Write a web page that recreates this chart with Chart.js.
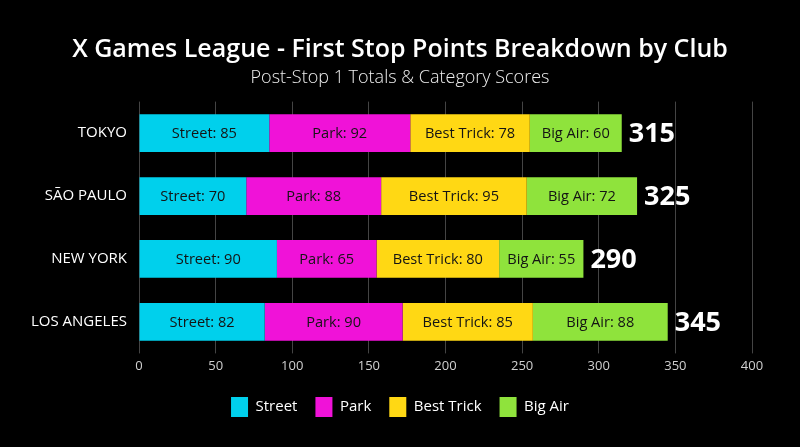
<!DOCTYPE html>
<html>
<head>
<meta charset="utf-8">
<script src="https://cdn.jsdelivr.net/npm/chart.js@4"></script>
<style>
  html, body { margin: 0; padding: 0; background: #000; }
  #wrap { width: 800px; height: 447px; }
</style>
</head>
<body>
<div id="wrap"><canvas id="clubChart"></canvas></div>
<script>
// donnees
const clubs = ['TOKYO', 'SÃO PAULO', 'NEW YORK', 'LOS ANGELES'];
const streetPts = [85, 70, 90, 82];
const parkPts = [92, 88, 65, 90];
const bestTrickPts = [78, 95, 80, 85];
const bigAirPts = [60, 72, 55, 88];
const categoryNames = ['Street', 'Park', 'Best Trick', 'Big Air'];
const categoryColors = ['#00d0ec', '#f012d8', '#ffd814', '#8fe33c'];

const FONT = '"Open Sans", sans-serif';

// les totaux a droite des barres
const totalsPlugin = {
    id: 'totals',
    afterDatasetsDraw(chart) {
        const c = chart.ctx;
        const xs = chart.scales.x, ys = chart.scales.y;
        c.save();
        c.fillStyle = '#fff';
        c.font = '700 27px ' + FONT;
        c.textBaseline = 'middle';
        c.textAlign = 'left';
        clubs.forEach((club, i) => {
            const total = streetPts[i] + parkPts[i] + bestTrickPts[i] + bigAirPts[i];
            c.fillText(String(total), xs.getPixelForValue(total) + 7, ys.getPixelForValue(i) + 1);
        });
        c.restore();
    }
};

// noms des clubs a gauche (les ticks de chart.js se font couper)
const clubNamesPlugin = {
    id: 'clubNames',
    afterDraw(chart) {
        const c = chart.ctx;
        const ys = chart.scales.y;
        c.save();
        c.fillStyle = '#fff';
        c.font = '500 15px ' + FONT;
        c.textBaseline = 'middle';
        c.textAlign = 'right';
        clubs.forEach((club, i) => {
            c.fillText(club, chart.chartArea.left - 12, ys.getPixelForValue(i));
        });
        c.restore();
    }
};

// texte dans chaque segment
const segLabelsPlugin = {
    id: 'segLabels',
    afterDatasetsDraw(chart) {
        const c = chart.ctx;
        c.save();
        c.fillStyle = '#141414';
        c.font = '500 14.6px ' + FONT;
        c.textBaseline = 'middle';
        c.textAlign = 'center';
        chart.data.datasets.forEach((ds, d) => {
            chart.getDatasetMeta(d).data.forEach((bar, i) => {
                const mid = (bar.x + bar.base) / 2;
                c.fillText(ds.label + ': ' + ds.data[i], mid, bar.y + 1);
            });
        });
        c.restore();
    }
};

const seriesData = [streetPts, parkPts, bestTrickPts, bigAirPts];

const clubChart = new Chart(document.getElementById('clubChart'), {
    type: 'bar',
    data: {
        labels: clubs,
        datasets: categoryNames.map((name, k) => ({
            label: name,
            data: seriesData[k],
            backgroundColor: categoryColors[k],
            borderWidth: 0,
            categoryPercentage: 0.6,
            barPercentage: 1
        }))
    },
    options: {
        indexAxis: 'y',
        responsive: true,
        maintainAspectRatio: false,
        animation: false,
        layout: { padding: { left: 48, right: 48, top: 8, bottom: 20 } },
        scales: {
            x: {
                stacked: true,
                min: 0,
                max: 400,
                ticks: { stepSize: 50, color: '#d0d0d0', font: { family: FONT, size: 13 }, padding: 5 },
                grid: { color: '#444', lineWidth: 1, tickLength: 0 },
                border: { display: false }
            },
            y: {
                stacked: true,
                afterFit(scale) { scale.width = 91; },   // pour centrer titre + legende
                ticks: { display: false },
                grid: { display: false },
                border: { display: false }
            }
        },
        plugins: {
            title: {
                display: true,
                text: 'X Games League - First Stop Points Breakdown by Club',
                color: '#fff',
                font: { family: FONT, size: 25, weight: '600' },
                padding: { top: 27, bottom: 2 }
            },
            subtitle: {
                display: true,
                text: 'Post-Stop 1 Totals & Category Scores',
                color: '#eee',
                font: { family: FONT, size: 18, weight: '300' },
                padding: { bottom: 13 }
            },
            legend: {
                position: 'bottom',
                labels: {
                    color: '#fff',
                    boxWidth: 17,
                    boxHeight: 20,
                    padding: 18,
                    font: { family: FONT, size: 15 }
                }
            },
            tooltip: { enabled: false }
        }
    },
    plugins: [segLabelsPlugin, totalsPlugin, clubNamesPlugin]
});
</script>
</body>
</html>
